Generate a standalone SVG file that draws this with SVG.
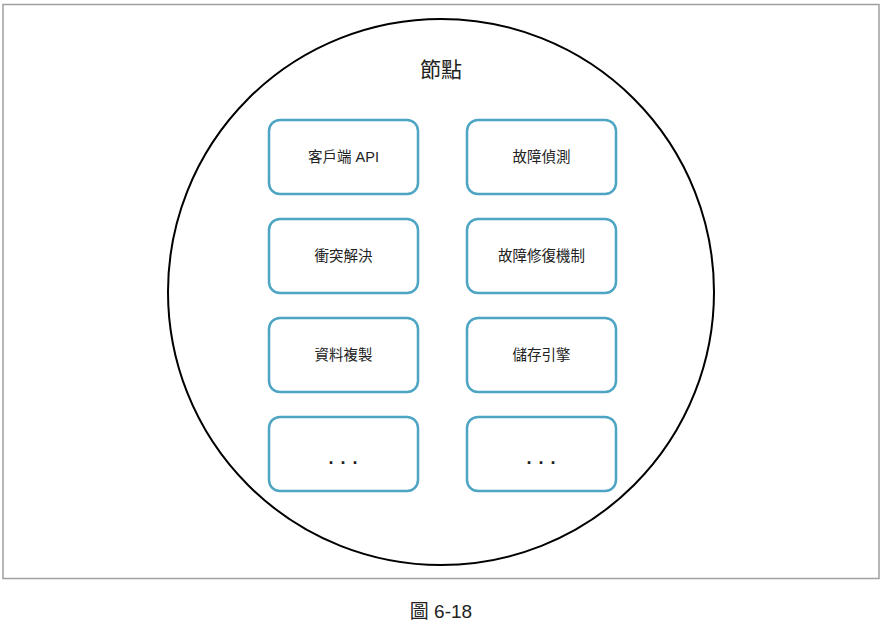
<svg xmlns="http://www.w3.org/2000/svg" width="884" height="623" viewBox="0 0 884 623">
<style>
.box{fill:#ffffff;stroke:#4ea5c3;stroke-width:2.5}
.t{font-family:"Liberation Sans","Noto Sans CJK TC",sans-serif;font-size:14.5px;fill:#222;text-anchor:middle}
.d{font-size:18px;font-weight:bold;letter-spacing:1px}
</style>
<rect x="0" y="0" width="884" height="623" fill="#ffffff"/>
<rect id="frame" x="3" y="4.5" width="876" height="574" fill="none" stroke="#a0a0a0" stroke-width="1.5"/>
<g id="node-circle">
<circle cx="441" cy="292" r="273" fill="none" stroke="#000" stroke-width="2"/>
<text x="441" y="77" class="t" style="font-size:21px">節點</text>
</g>
<g id="n1"><rect class="box" x="269" y="120" width="149" height="74" rx="11"/><text class="t" x="343.5" y="162">客戶端 API</text></g>
<g id="n2"><rect class="box" x="467" y="120" width="149" height="74" rx="11"/><text class="t" x="541.5" y="162">故障偵測</text></g>
<g id="n3"><rect class="box" x="269" y="219" width="149" height="74" rx="11"/><text class="t" x="343.5" y="261">衝突解決</text></g>
<g id="n4"><rect class="box" x="467" y="219" width="149" height="74" rx="11"/><text class="t" x="541.5" y="261">故障修復機制</text></g>
<g id="n5"><rect class="box" x="269" y="318" width="149" height="74" rx="11"/><text class="t" x="343.5" y="360">資料複製</text></g>
<g id="n6"><rect class="box" x="467" y="318" width="149" height="74" rx="11"/><text class="t" x="541.5" y="360">儲存引擎</text></g>
<g id="n7"><rect class="box" x="269" y="417" width="149" height="74" rx="11"/><text class="t d" x="343.5" y="464">. . .</text></g>
<g id="n8"><rect class="box" x="467" y="417" width="149" height="74" rx="11"/><text class="t d" x="541.5" y="464">. . .</text></g>
<g id="connectors"></g>
<text class="t" x="441" y="618" style="font-size:19px">圖 6-18</text>
</svg>
